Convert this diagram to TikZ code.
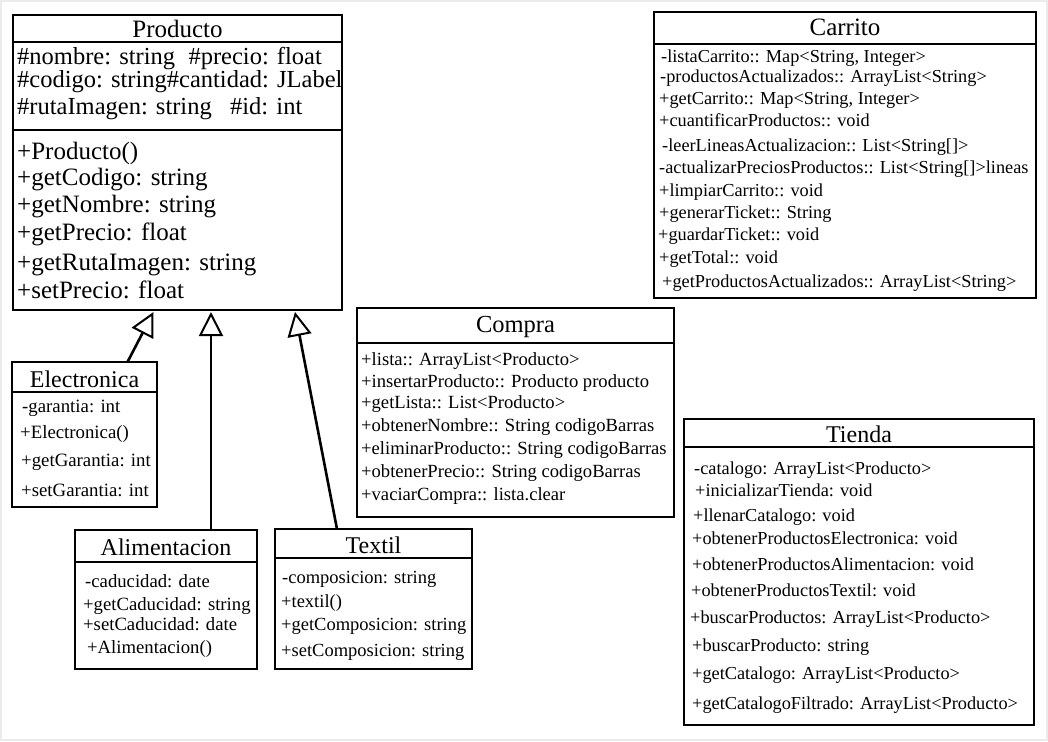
\documentclass[tikz,border=0pt]{standalone}
\usepackage{fontspec}
\setmainfont{Liberation Serif}
\usetikzlibrary{arrows.meta}
\begin{document}
\begin{tikzpicture}[x=1pt,y=-1pt,
  box/.style={draw, line width=2.8pt, anchor=north west, inner sep=0pt, outer sep=0pt, fill=white},
  sep/.style={line width=2.3pt},
  ttl/.style={anchor=base, inner sep=0pt, font=\fontsize{24}{24}\selectfont},
  big/.style={anchor=base west, inner sep=0pt, font=\fontsize{24.5}{25}\selectfont},
  small/.style={anchor=base west, inner sep=0pt, font=\fontsize{18.5}{20}\selectfont},
  inherit/.style={line width=2.6pt, -{Triangle[open, length=24pt, width=24pt, line width=2pt]}}]

\useasboundingbox (0,0) rectangle (1048,741);
\fill[white] (0,0) rectangle (1048,741);
\draw[black!8, line width=2pt] (1,1) rectangle (1047,740);

% ---------- Producto ----------
\node[box, minimum width=329pt, minimum height=295pt] (producto) at (13,15) {};
\draw[sep] (producto.north west |- 0,42) -- (producto.north east |- 0,42);
\draw[sep] (producto.north west |- 0,130) -- (producto.north east |- 0,130);
\node[ttl, font=\fontsize{25}{25}\selectfont] (producto-t) at (producto.north |- 0,38) {Producto};
\foreach \y/\x/\t [count=\i] in {
  65/17/{\#nombre: string\hspace{0.55em}\#precio: float},
  88/17/{\#codigo: string\#cantidad: JLabel},
  114/17/{\#rutaImagen: string\hspace{0.75em}\#id: int}}
  \node[big] (prod-a\i) at (\x,\y) {\t};
\foreach \y/\x/\t [count=\i] in {
  159/17/{+Producto()},
  185/17/{+getCodigo: string},
  212/17/{+getNombre: string},
  240/17/{+getPrecio: float},
  270/17/{+getRutaImagen: string},
  298/17/{+setPrecio: float}}
  \node[big, font=\fontsize{25}{25}\selectfont] (prod-m\i) at (\x,\y) {\t};

% ---------- Carrito ----------
\node[box, minimum width=382pt, minimum height=286pt] (carrito) at (654,12) {};
\draw[sep] (carrito.north west |- 0,44) -- (carrito.north east |- 0,44);
\node[ttl, font=\fontsize{25}{25}\selectfont] (carrito-t) at (carrito.north |- 0,36) {Carrito};
\foreach \y/\x/\t [count=\i] in {
  63/661/{-listaCarrito:: Map<String, Integer>},
  83/660/{-productosActualizados:: ArrayList<String>},
  104/659/{+getCarrito:: Map<String, Integer>},
  126/659/{+cuantificarProductos:: void},
  151/662/{-leerLineasActualizacion:: List<String[]>},
  173/659/{-actualizarPreciosProductos:: List<String[]>lineas},
  196/659/{+limpiarCarrito:: void},
  218/659/{+generarTicket:: String},
  240/658/{+guardarTicket:: void},
  263/659/{+getTotal:: void},
  287/662/{+getProductosActualizados:: ArrayList<String>}}
  \node[small, font=\fontsize{18.3}{20}\selectfont] (car\i) at (\x,\y) {\t};

% ---------- Compra ----------
\node[box, minimum width=317pt, minimum height=209pt] (compra) at (357,308) {};
\draw[sep] (compra.north west |- 0,343) -- (compra.north east |- 0,343);
\node[ttl, font=\fontsize{24.5}{25}\selectfont] (compra-t) at (compra.north |- 0,332) {Compra};
\foreach \y/\x/\t [count=\i] in {
  365/361/{+lista:: ArrayList<Producto>},
  387/361/{+insertarProducto:: Producto producto},
  408/361/{+getLista:: List<Producto>},
  431/361/{+obtenerNombre:: String codigoBarras},
  454/361/{+eliminarProducto:: String codigoBarras},
  477/361/{+obtenerPrecio:: String codigoBarras},
  500/361/{+vaciarCompra:: lista.clear}}
  \node[small, font=\fontsize{18.6}{20}\selectfont] (com\i) at (\x,\y) {\t};

% ---------- Tienda ----------
\node[box, minimum width=350pt, minimum height=306pt] (tienda) at (684,419) {};
\draw[sep] (tienda.north west |- 0,447) -- (tienda.north east |- 0,447);
\node[ttl, font=\fontsize{24}{24}\selectfont] (tienda-t) at (tienda.north |- 0,442) {Tienda};
\foreach \y/\x/\t [count=\i] in {
  474/694/{-catalogo: ArrayList<Producto>},
  496/695/{+inicializarTienda: void},
  521/693/{+llenarCatalogo: void},
  544/692/{+obtenerProductosElectronica: void},
  570/692/{+obtenerProductosAlimentacion: void},
  596/691/{+obtenerProductosTextil: void},
  623/690/{+buscarProductos: ArrayList<Producto>},
  651/692/{+buscarProducto: string},
  679/692/{+getCatalogo: ArrayList<Producto>},
  709/692/{+getCatalogoFiltrado: ArrayList<Producto>}}
  \node[small, font=\fontsize{18.3}{20}\selectfont] (tie\i) at (\x,\y) {\t};

% ---------- Electronica ----------
\node[box, minimum width=145pt, minimum height=145pt] (electronica) at (12,362) {};
\draw[sep] (electronica.north west |- 0,392) -- (electronica.north east |- 0,392);
\node[ttl] (electronica-t) at (electronica.north |- 0,387) {Electronica};
\foreach \y/\x/\t [count=\i] in {
  412/22/{-garantia: int},
  438/20/{+Electronica()},
  466/21/{+getGarantia: int},
  496/21/{+setGarantia: int}}
  \node[small, font=\fontsize{18.8}{20}\selectfont] (ele\i) at (\x,\y) {\t};

% ---------- Alimentacion ----------
\node[box, minimum width=182pt, minimum height=139pt] (alimentacion) at (75,530) {};
\draw[sep] (alimentacion.north west |- 0,562) -- (alimentacion.north east |- 0,562);
\node[ttl] (alimentacion-t) at (alimentacion.north |- 0,555) {Alimentacion};
\foreach \y/\x/\t [count=\i] in {
  587/85/{-caducidad: date},
  610/83/{+getCaducidad: string},
  630/83/{+setCaducidad: date},
  653/87/{+Alimentacion()}}
  \node[small, font=\fontsize{18.7}{20}\selectfont] (ali\i) at (\x,\y) {\t};

% ---------- Textil ----------
\node[box, minimum width=197pt, minimum height=140pt] (textil) at (275,529) {};
\draw[sep] (textil.north west |- 0,558) -- (textil.north east |- 0,558);
\node[ttl] (textil-t) at (textil.north |- 0,553) {Textil};
\foreach \y/\x/\t [count=\i] in {
  583/282/{-composicion: string},
  607/281/{+textil()},
  630/281/{+getComposicion: string},
  656/281/{+setComposicion: string}}
  \node[small, font=\fontsize{18.5}{20}\selectfont] (tex\i) at (\x,\y) {\t};

% ---------- Inheritance ----------
\draw[inherit] ([xshift=43pt]electronica.north) -- ([xshift=-24pt,yshift=-2pt]producto.south);
\draw[inherit] ([xshift=45pt]alimentacion.north) -- ([xshift=33.5pt,yshift=-2pt]producto.south);
\draw[inherit] ([xshift=-36.5pt]textil.north) -- ([xshift=117.5pt,yshift=-2pt]producto.south);
\end{tikzpicture}
\end{document}
